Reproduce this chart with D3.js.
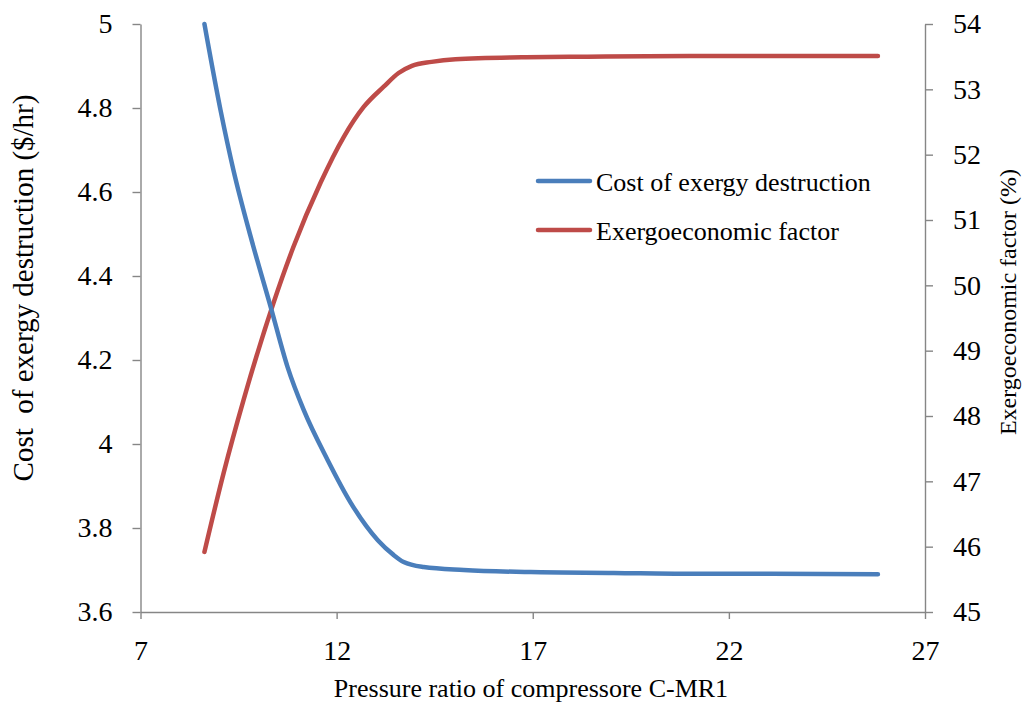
<!DOCTYPE html>
<html>
<head>
<meta charset="utf-8">
<script src="https://cdn.jsdelivr.net/npm/d3@7"></script>
<style>
  html, body { margin: 0; padding: 0; background: #fff; }
  svg { display: block; }
  text { fill: #000; }
  .tnr { font-family: "Liberation Serif", "DejaVu Serif"; }
  .csb { font-family: "DejaVu Serif", "Liberation Serif"; }
</style>
</head>
<body>
<svg id="chart" width="1024" height="706"></svg>
<script>
// Cost of exergy destruction vs. pressure ratio (left axis, $/hr)
const pressureRatioCost = [8.63, 9.04, 9.37, 9.81, 10.32, 10.75, 11.16, 11.77, 12.36, 13.05, 13.45, 13.71, 14.22, 15.24, 16.95, 19.07, 21.0, 23.0, 25.8];
const costExergyDestruction = [5.00, 4.795, 4.652, 4.493, 4.326, 4.183, 4.081, 3.962, 3.860, 3.771, 3.736, 3.719, 3.707, 3.700, 3.695, 3.693, 3.691, 3.691, 3.690];

// Exergoeconomic factor vs. pressure ratio (right axis, %)
const pressureRatioFactor = [8.63, 9.12, 9.63, 10.39, 10.90, 11.59, 12.18, 12.69, 13.20, 13.58, 13.92, 14.42, 15.03, 16.72, 18.4, 21.0, 25.8];
const exergoeconomicFactor = [45.92, 47.13, 48.25, 49.73, 50.59, 51.57, 52.27, 52.73, 53.04, 53.25, 53.36, 53.42, 53.46, 53.49, 53.50, 53.51, 53.51];

// Axis ticks
const xTicks = [7, 12, 17, 22, 27];
const leftTicks = [3.6, 3.8, 4.0, 4.2, 4.4, 4.6, 4.8, 5.0];
const rightTicks = [45, 46, 47, 48, 49, 50, 51, 52, 53, 54];

const seriesNames = ["Cost of exergy destruction", "Exergoeconomic factor"];
const seriesColors = ["#4A7EBB", "#BE4B48"];

const svg = d3.select("#chart");
const plot = { left: 140.5, right: 925, top: 24, bottom: 612 };

const x = d3.scaleLinear().domain([7, 27]).range([plot.left, plot.right]);
const yL = d3.scaleLinear().domain([3.6, 5]).range([plot.bottom, plot.top]);
const yR = d3.scaleLinear().domain([45, 54]).range([plot.bottom, plot.top]);

const fmt = v => String(+v.toFixed(1));
const axisColor = "#868686";

function styleAxis(g) {
  g.attr("font-family", null).attr("font-size", null);
  g.select(".domain").attr("stroke", axisColor).attr("stroke-width", 1.4);
  g.selectAll(".tick line").attr("stroke", axisColor).attr("stroke-width", 1.4);
  g.selectAll(".tick text")
    .attr("class", "tnr")
    .attr("font-size", 28).attr("fill", "#000");
}

svg.append("g")
  .attr("transform", `translate(0,${plot.bottom})`)
  .call(d3.axisBottom(x).tickValues(xTicks).tickFormat(fmt).tickSize(7).tickPadding(21).tickSizeOuter(0))
  .call(styleAxis);

svg.append("g")
  .attr("transform", `translate(${plot.left},0)`)
  .call(d3.axisLeft(yL).tickValues(leftTicks).tickFormat(fmt).tickSize(8).tickPadding(20).tickSizeOuter(0))
  .call(styleAxis);

svg.append("g")
  .attr("transform", `translate(${plot.right},0)`)
  .call(d3.axisRight(yR).tickValues(rightTicks).tickFormat(fmt).tickSize(8).tickPadding(20).tickSizeOuter(0))
  .call(styleAxis);

// Series lines
const costData = pressureRatioCost.map((p, i) => [p, costExergyDestruction[i]]);
const factorData = pressureRatioFactor.map((p, i) => [p, exergoeconomicFactor[i]]);

const lineCost = d3.line().x(d => x(d[0])).y(d => yL(d[1])).curve(d3.curveMonotoneX);
const lineFactor = d3.line().x(d => x(d[0])).y(d => yR(d[1])).curve(d3.curveMonotoneX);

svg.append("path").datum(factorData)
  .attr("d", lineFactor).attr("fill", "none")
  .attr("stroke", seriesColors[1]).attr("stroke-width", 4.5)
  .attr("stroke-linecap", "round").attr("stroke-linejoin", "round");

svg.append("path").datum(costData)
  .attr("d", lineCost).attr("fill", "none")
  .attr("stroke", seriesColors[0]).attr("stroke-width", 4.5)
  .attr("stroke-linecap", "round").attr("stroke-linejoin", "round");

// Legend
const legend = svg.append("g");
const legendRows = [181, 230];
seriesNames.forEach((name, i) => {
  legend.append("line")
    .attr("x1", 538).attr("x2", 590)
    .attr("y1", legendRows[i]).attr("y2", legendRows[i])
    .attr("stroke", seriesColors[i]).attr("stroke-width", 4.5)
    .attr("stroke-linecap", "round");
  legend.append("text")
    .attr("class", "tnr")
    .attr("x", 596).attr("y", legendRows[i] + 9.5)
    .attr("font-size", 26)
    .text(name);
});

// Axis titles
svg.append("text")
  .attr("class", "tnr")
  .attr("x", 531).attr("y", 697)
  .attr("text-anchor", "middle")
  .attr("font-size", 26)
  .text("Pressure ratio of compressore C-MR1");

svg.append("text")
  .attr("class", "tnr")
  .attr("transform", "translate(33,288) rotate(-90)")
  .attr("text-anchor", "middle")
  .attr("font-size", 29)
  .style("white-space", "pre")
  .text("Cost  of exergy destruction ($/hr)");

svg.append("text")
  .attr("class", "tnr")
  .attr("transform", "translate(1016,302) rotate(-90)")
  .attr("text-anchor", "middle")
  .attr("font-size", 24)
  .text("Exergoeconomic factor (%)");
</script>
</body>
</html>
